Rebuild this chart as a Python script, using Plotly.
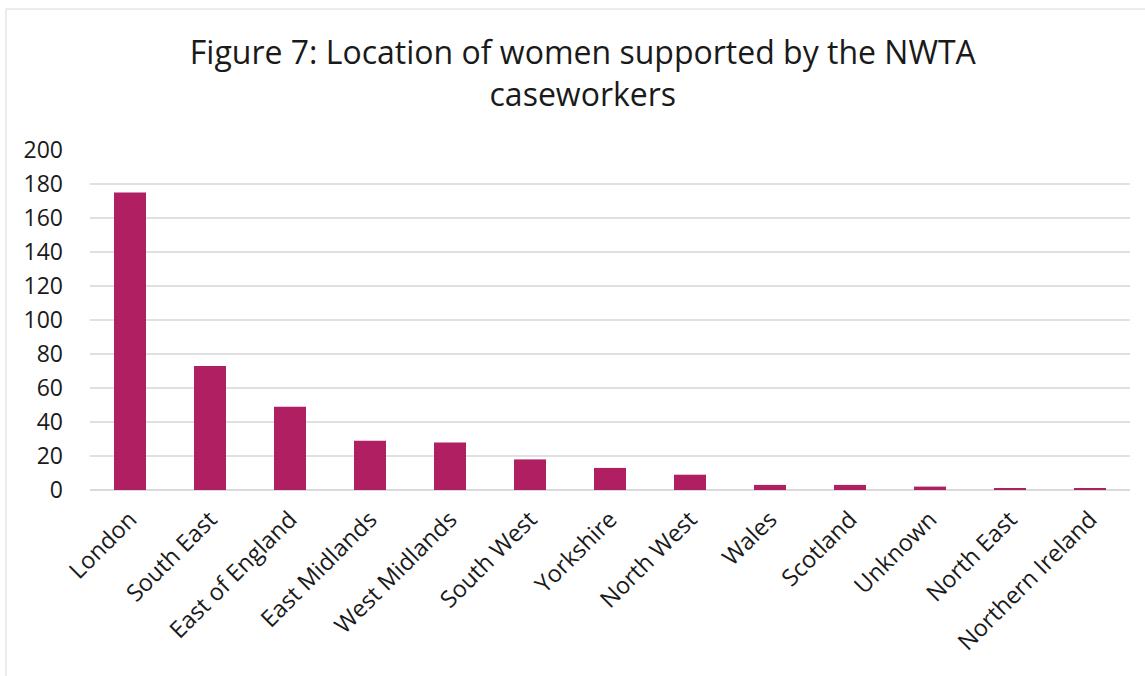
import plotly.graph_objects as go

regions = ["London", "South East", "East of England", "East Midlands", "West Midlands",
           "South West", "Yorkshire", "North West", "Wales", "Scotland", "Unknown",
           "North East", "Northern Ireland"]
women = [175, 73, 49, 29, 28, 18, 13, 9, 3, 3, 2, 1, 1]
y_ticks = [0, 20, 40, 60, 80, 100, 120, 140, 160, 180, 200]

fig = go.Figure()
fig.add_trace(go.Bar(
    x=regions, y=women,
    marker=dict(color="#b01f61", line=dict(width=0)),
    width=0.4,
))

# light frame around the chart area, like the original chart object
fig.add_shape(type="rect", xref="paper", yref="paper",
              x0=-0.0808, x1=1.05, y0=-0.6, y1=1.4147,
              line=dict(color="#d9d9d9", width=1), fillcolor="rgba(0,0,0,0)", layer="below")

fig.update_layout(
    width=1145, height=676,
    margin=dict(l=90, r=15, t=150, b=186),
    paper_bgcolor="white", plot_bgcolor="white",
    font=dict(family="Open Sans", color="#262626"),
    title=dict(text="Figure 7: Location of women supported by the NWTA<br>caseworkers",
               x=0.509, xanchor="center", y=0.905, yanchor="middle",
               font=dict(size=32, color="#1a1a1a")),
    showlegend=False,
    xaxis=dict(tickangle=-45, tickfont=dict(size=23.5, color="#1a1a1a"),
               showgrid=False, showline=False, ticks="", automargin=False,
               ticklabelstandoff=10),
    yaxis=dict(range=[0, 200], tickvals=y_ticks, tickfont=dict(size=23, color="#1a1a1a"),
               showgrid=True, gridcolor="#e0e0e0", gridwidth=1.5,
               zeroline=True, zerolinecolor="#d9d9d9", zerolinewidth=2,
               ticks="", ticklabelstandoff=26, automargin=False),
)

# drop the browser's default body margin so the figure sits at the page corner
fig.write_html("out.html", config={"displayModeBar": False},
               post_script="document.body.style.margin='0';")
